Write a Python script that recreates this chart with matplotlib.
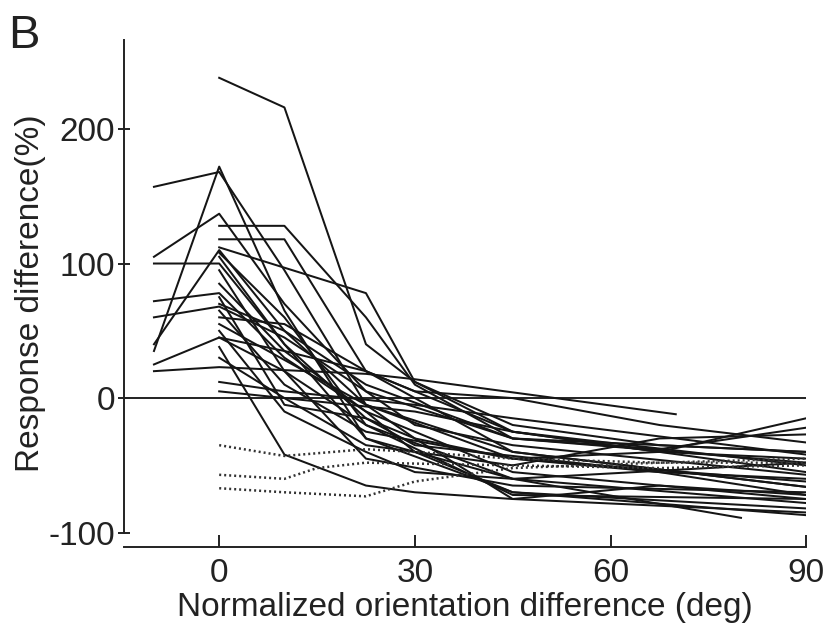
import matplotlib.pyplot as plt

plt.rcParams['font.family'] = ['Liberation Sans', 'DejaVu Sans']
plt.rcParams['axes.unicode_minus'] = False

# each cell: (orientation difference values, response difference values)
solid_x = [
    [0, 10, 22.5, 30, 45, 67.5, 90],
    [-10, 0, 10, 22.5, 45, 90],
    [-10, 0, 10, 22.5, 45, 90],
    [-10, 0, 10, 22.5, 30, 45, 90],
    [-10, 0, 10, 22.5, 30, 67.5, 90],
    [-10, 0, 10, 22.5, 45, 90],
    [-10, 0, 10, 22.5, 45, 90],
    [-10, 0, 10, 22.5, 45, 80],
    [-10, 0, 22.5, 30, 70],
    [-10, 0, 10, 22.5, 45, 90],
    [0, 10, 22.5, 30, 45, 90],
    [0, 10, 22.5, 45, 90],
    [0, 22.5, 30, 45, 67.5, 90],
    [0, 10, 22.5, 45, 90],
    [0, 10, 22.5, 45, 90],
    [0, 10, 22.5, 45, 90],
    [0, 10, 22.5, 30, 45, 90],
    [0, 10, 22.5, 30, 45, 67.5, 90],
    [0, 10, 30, 45, 90],
    [0, 10, 30, 45, 90],
    [0, 10, 22.5, 30, 45, 90],
    [0, 10, 22.5, 30, 45, 90],
    [0, 10, 22.5, 45, 67.5, 90],
    [0, 10, 22.5, 45, 67.5, 90],
    [0, 10, 22.5, 30, 45, 67.5, 90],
    [0, 22.5, 30, 45, 67.5, 90],
    [0, 10, 22.5, 30, 45, 90],
    [0, 10, 22.5, 45, 67.5, 90],
]
solid_y = [
    [238, 216, 40, 12, -25, -40, -45],
    [157, 168, 95, -5, -45, -62],
    [35, 172, 65, -30, -70, -82],
    [105, 137, 70, 5, -20, -35, -57],
    [100, 100, 40, -15, -35, -55, -72],
    [72, 78, 30, -10, -55, -75],
    [60, 68, 45, 5, -30, -48],
    [25, 45, 20, -20, -60, -89],
    [20, 23, 18, 14, -12],
    [40, 110, 50, -5, -40, -66],
    [128, 128, 60, 10, -30, -40],
    [118, 118, 20, -40, -66],
    [112, 78, 12, -20, -35, -40],
    [108, 60, -20, -72, -75],
    [105, 40, -30, -60, -78],
    [95, 20, -45, -65, -70],
    [85, 35, -10, -40, -70, -87],
    [60, 55, 20, 5, 0, -20, -33],
    [12, 5, -5, -15, -42],
    [5, 0, -10, -25, -50],
    [38, -42, -65, -70, -75, -85],
    [45, 35, 20, 5, -25, -55],
    [70, 50, 10, -30, -38, -22],
    [65, 10, -25, -45, -40, -15],
    [75, -5, -15, -30, -45, -55, -60],
    [55, -5, -30, -75, -65, -72],
    [50, -10, -40, -55, -60, -48],
    [30, 0, -35, -50, -30, -27],
]

dotted_x = [
    [0, 10, 22.5, 30, 45, 67.5, 90],
    [0, 10, 15, 22.5, 45, 67.5, 90],
    [0, 10, 22.5, 30, 45, 67.5, 90],
]
dotted_y = [
    [-35, -43, -38, -40, -45, -48, -45],
    [-57, -60, -52, -48, -50, -52, -50],
    [-67, -70, -73, -62, -52, -48, -48],
]

fig = plt.figure(figsize=(8.32, 6.37), dpi=100)
ax = fig.add_axes([0.149, 0.141, 0.820, 0.796])

ax.axhline(0, color='#222222', lw=1.4)
for xs, ys in zip(solid_x, solid_y):
    ax.plot(xs, ys, color='#151515', lw=1.45)
for xs, ys in zip(dotted_x, dotted_y):
    ax.plot(xs, ys, color='#333333', lw=1.8, linestyle=(0, (0.8, 1.2)))

ax.set_xlim(-14.6, 90)
ax.set_ylim(-110.8, 266)
ax.set_xticks([0, 30, 60, 90])
ax.set_yticks([-100, 0, 100, 200])
ax.spines['top'].set_visible(False)
ax.spines['right'].set_visible(False)
ax.spines['left'].set_bounds(-100, 266)
ax.spines['bottom'].set_bounds(-14.6, 90)
for s in ['left', 'bottom']:
    ax.spines[s].set_linewidth(1.4)
    ax.spines[s].set_color('#222222')

ax.tick_params(axis='x', direction='in', length=9, width=1.4, pad=8,
               labelsize=24, colors='#222222')
ax.tick_params(axis='y', direction='inout', length=9, width=1.4, pad=2,
               labelsize=24, colors='#222222')

ax.set_xlabel('Normalized orientation difference (deg)', fontsize=24,
              color='#222222', labelpad=2)
ax.set_ylabel('Response difference(%)', fontsize=24, color='#222222',
              labelpad=2)
fig.text(0.010, 0.925, 'B', fontsize=34, color='#222222')

fig.savefig('out.png', dpi=100)
